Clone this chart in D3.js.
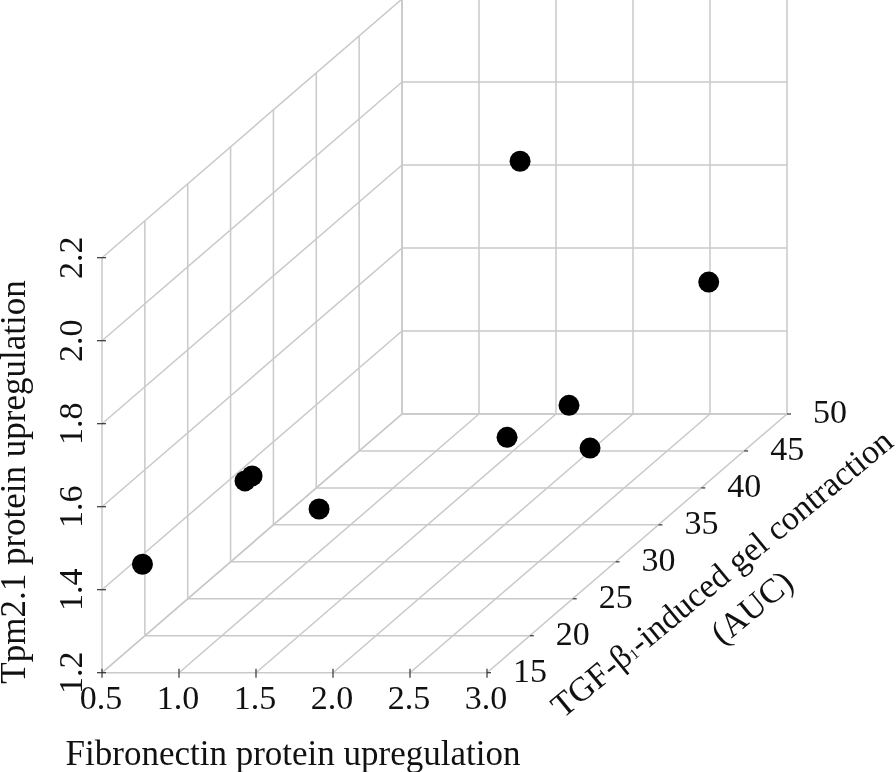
<!DOCTYPE html>
<html>
<head>
<meta charset="utf-8">
<script src="https://cdnjs.cloudflare.com/ajax/libs/d3/7.8.5/d3.min.js"></script>
<style>
html,body{margin:0;padding:0;background:#fff;overflow:hidden}
svg{display:block;filter:blur(0.4px)}
text{font-family:"Liberation Serif",serif;fill:#111}
</style>
</head>
<body>
<svg id="chart" width="896" height="772"></svg>
<script>
const fibronectin = [1.545, 2.77, 2.141, 2.017, 2.556, 0.918, 0.872, 1.186, 0.54];
const tpm = [1.898, 1.607, 1.399, 1.411, 1.385, 1.496, 1.484, 1.363, 1.39];
const contraction = [45, 45, 40, 35, 35, 25, 25, 28, 19];
const xTicks = [0.5, 1.0, 1.5, 2.0, 2.5, 3.0];
const yTicks = [1.2, 1.4, 1.6, 1.8, 2.0, 2.2];
const zTicks = [15, 20, 25, 30, 35, 40, 45, 50];
const xTitle = "Fibronectin protein upregulation";
const yTitle = "Tpm2.1 protein upregulation";
const zTitleA = "TGF-β";
const zTitleSub = "1";
const zTitleB = "-induced gel contraction";
const zTitleLine2 = "(AUC)";

const GRID = "#c9c9c9", TICK = "#333", FS = 35, TFS = 34;
const ox = 102, oy = 672.7;
const xS = d3.scaleLinear().domain([0.5, 3.0]).range([0, 385]);
const yS = d3.scaleLinear().domain([1.2, 2.2]).range([0, -415]);
const zX = d3.scaleLinear().domain([15, 50]).range([0, 300]);
const zY = d3.scaleLinear().domain([15, 50]).range([0, -258.7]);
const P = (x, y, z) => [ox + xS(x) + zX(z), oy + yS(y) + zY(z)];

const svg = d3.select("#chart");
const [x0, x1] = [xTicks[0], xTicks[xTicks.length - 1]];
const [y0, y1] = [yTicks[0], yTicks[yTicks.length - 1]];
const [z0, z1] = [zTicks[0], zTicks[zTicks.length - 1]];

const segs = [];
// floor
xTicks.forEach(x => segs.push([P(x, y0, z0), P(x, y0, z1)]));
zTicks.forEach(z => segs.push([P(x0, y0, z), P(x1, y0, z)]));
// left wall
yTicks.forEach(y => segs.push([P(x0, y, z0), P(x0, y, z1)]));
zTicks.forEach(z => segs.push([P(x0, y0, z), P(x0, y1, z)]));
// back wall
xTicks.forEach(x => segs.push([P(x, y0, z1), P(x, y1, z1)]));
yTicks.forEach(y => segs.push([P(x0, y, z1), P(x1, y, z1)]));

svg.append("g").selectAll("line").data(segs).join("line")
  .attr("x1", d => d[0][0]).attr("y1", d => d[0][1])
  .attr("x2", d => d[1][0]).attr("y2", d => d[1][1])
  .attr("stroke", GRID).attr("stroke-width", 1.5);

// tick marks
const tg = svg.append("g").attr("stroke", TICK).attr("stroke-width", 1.2);
tg.selectAll(".tx").data(xTicks).join("line").attr("class", "tx")
  .attr("x1", d => P(d, y0, z0)[0]).attr("x2", d => P(d, y0, z0)[0])
  .attr("y1", d => P(d, y0, z0)[1] - 4).attr("y2", d => P(d, y0, z0)[1] + 5);
tg.selectAll(".ty").data(yTicks).join("line").attr("class", "ty")
  .attr("x1", d => P(x0, d, z0)[0] - 5).attr("x2", d => P(x0, d, z0)[0] + 4)
  .attr("y1", d => P(x0, d, z0)[1]).attr("y2", d => P(x0, d, z0)[1]);
tg.selectAll(".tz").data(zTicks).join("line").attr("class", "tz")
  .attr("x1", d => P(x1, y0, d)[0]).attr("x2", d => P(x1, y0, d)[0] + 4)
  .attr("y1", d => P(x1, y0, d)[1]).attr("y2", d => P(x1, y0, d)[1]);

// tick labels
svg.append("g").selectAll("text").data(xTicks).join("text")
  .attr("x", d => P(d, y0, z0)[0] - 1).attr("y", oy + 36)
  .attr("text-anchor", "middle").attr("font-size", TFS)
  .text(d3.format(".1f"));
svg.append("g").selectAll("text").data(yTicks).join("text")
  .attr("transform", d => `translate(82,${P(x0, d, z0)[1]}) rotate(-90)`)
  .attr("text-anchor", "middle").attr("font-size", TFS)
  .text(d3.format(".1f"));
svg.append("g").selectAll("text").data(zTicks).join("text")
  .attr("x", d => P(x1, y0, d)[0] + 43).attr("y", d => P(x1, y0, d)[1] + 9)
  .attr("text-anchor", "middle").attr("font-size", TFS)
  .text(d => d);

// titles
svg.append("text").attr("x", 293).attr("y", 765)
  .attr("text-anchor", "middle").attr("font-size", FS).text(xTitle);
svg.append("text").attr("transform", "translate(25,482) rotate(-90)")
  .attr("text-anchor", "middle").attr("font-size", FS).text(yTitle);
const zt = svg.append("text").attr("transform", "translate(729,582) rotate(-39.5)")
  .attr("text-anchor", "middle").attr("font-size", TFS);
zt.append("tspan").text(zTitleA);
zt.append("tspan").attr("font-size", 15).text(zTitleSub);
zt.append("tspan").text(zTitleB);
svg.append("text").attr("transform", "translate(759,616) rotate(-39.5)")
  .attr("text-anchor", "middle").attr("font-size", TFS).text(zTitleLine2);

// points
svg.append("g").selectAll("circle").data(d3.range(fibronectin.length)).join("circle")
  .attr("cx", i => P(fibronectin[i], tpm[i], contraction[i])[0])
  .attr("cy", i => P(fibronectin[i], tpm[i], contraction[i])[1])
  .attr("r", 10.5).attr("fill", "#000");
</script>
</body>
</html>
